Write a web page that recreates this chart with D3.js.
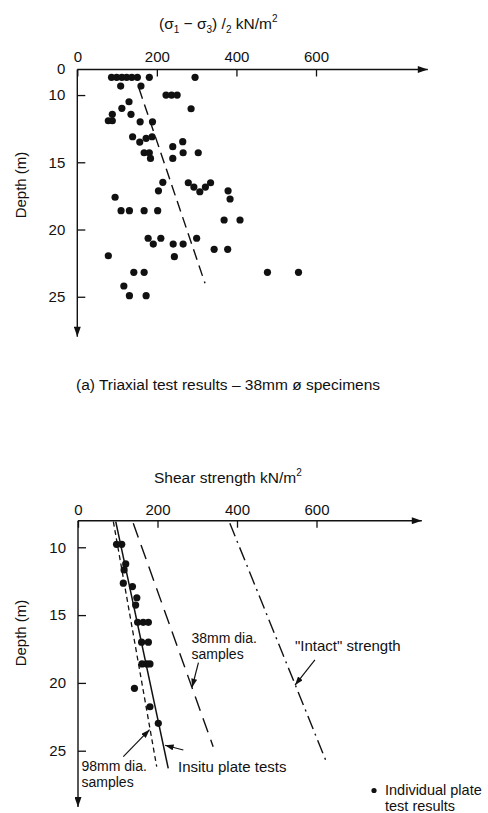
<!DOCTYPE html>
<html><head><meta charset="utf-8">
<script src="https://cdn.jsdelivr.net/npm/d3@7/dist/d3.min.js"></script>
<style>
body{margin:0;background:#fff}
svg{display:block}
text{font-family:"Liberation Sans",Arial,Helvetica,sans-serif;fill:#111}
</style>
</head><body>
<svg id="c" width="488" height="813"></svg>
<script>
// ---------- data ----------
const strengthTicks = [0, 200, 400, 600];
const depthTicks = [10, 15, 20, 25];

// (a) triaxial test results, 38mm specimens: (sigma1 - sigma3)/2 kN/m2 vs depth m
const triaxialStrength = [86, 99, 112, 124, 137, 151, 181, 296,
  109, 160, 223, 237, 251, 130, 112, 286, 88, 135, 78, 88, 158, 189,
  139, 157, 173, 188, 265, 240, 168, 181, 266, 304, 184, 240,
  215, 204, 279, 293, 308, 322, 335, 379, 384, 95,
  110, 131, 168, 202, 369, 409, 178, 191, 210, 241, 266, 300, 244, 344, 378, 78,
  142, 168, 478, 556, 117, 131, 173];
const triaxialDepth = [8.68, 8.68, 8.68, 8.68, 8.68, 8.68, 8.68, 8.68,
  9.33, 9.33, 10.0, 10.0, 10.0, 10.5, 10.99, 11.02, 11.43, 11.43, 11.91, 11.91, 11.99, 11.99,
  13.1, 13.5, 13.22, 13.1, 13.47, 13.84, 14.29, 14.29, 14.29, 14.29, 14.71, 14.71,
  16.49, 17.12, 16.52, 16.84, 17.19, 16.84, 16.52, 17.12, 17.73, 17.6,
  18.6, 18.6, 18.6, 18.6, 19.29, 19.29, 20.65, 21.08, 20.65, 21.08, 21.08, 20.65, 22.02, 21.47, 21.47, 21.95,
  23.18, 23.18, 23.18, 23.18, 24.2, 24.92, 24.92];
const triaxialTrendStrength = [155, 321];
const triaxialTrendDepth = [9.5, 24.0];

// (b) shear strength: individual plate tests and strength profiles
const plateStrength = [97, 110, 120, 116, 114, 137, 148, 145, 150, 164, 177, 160, 177, 161, 173, 181, 142, 181, 202];
const plateDepth = [9.78, 9.78, 11.23, 11.67, 12.65, 12.9, 13.72, 14.26, 15.53, 15.53, 15.53, 17.0, 17.0, 18.6, 18.6, 18.6, 20.4, 21.76, 22.98];
const insituStrength = [95, 227];
const insituDepth = [8.11, 26.3];
const sample98Strength = [89, 198];
const sample98Depth = [8.11, 26.18];
const sample38Strength = [139, 340];
const sample38Depth = [8.23, 24.7];
const intactStrength = [382, 626];
const intactDepth = [8.23, 25.9];

// annotation arrows: [tailStrength, tailDepth, headStrength, headDepth]
const arrow38 = [303, 18.51, 287, 20.32];
const arrowIntact = [596, 18.31, 546, 20.16];
const arrow98 = [114, 25.44, 180, 23.45];
const arrowInsitu = [265, 24.95, 219, 24.6];

// ---------- drawing ----------
const svg = d3.select('#c');
const ink = '#111';
const defs = svg.append('defs');
defs.append('marker').attr('id', 'axArrow').attr('viewBox', '0 0 10 7')
  .attr('refX', 10).attr('refY', 3.5).attr('markerWidth', 11).attr('markerHeight', 7)
  .attr('markerUnits', 'userSpaceOnUse').attr('orient', 'auto')
  .append('path').attr('d', 'M0,0L10,3.5L0,7Z').attr('fill', ink);
defs.append('marker').attr('id', 'annArrow').attr('viewBox', '0 0 10 7')
  .attr('refX', 10).attr('refY', 3.5).attr('markerWidth', 9).attr('markerHeight', 6)
  .attr('markerUnits', 'userSpaceOnUse').attr('orient', 'auto')
  .append('path').attr('d', 'M0,0L10,3.5L0,7Z').attr('fill', ink);

function drawAxes(x, y, xEnd, xPad, yLabelCenter) {
  const [d0, d1] = y.domain();
  const gx = svg.append('g').attr('transform', `translate(0,${y(d0)})`)
    .call(d3.axisTop(x).tickValues(strengthTicks).tickSize(-7).tickSizeOuter(0).tickPadding(xPad));
  gx.select('.domain').remove();
  gx.attr('font-size', 15).attr('font-family', null);
  gx.selectAll('line').attr('stroke', ink).attr('stroke-width', 1.3);
  gx.selectAll('text').attr('fill', ink);

  const gy = svg.append('g').attr('transform', `translate(${x(0)},0)`)
    .call(d3.axisLeft(y).tickValues(depthTicks).tickSize(-8).tickSizeOuter(0).tickPadding(12));
  gy.select('.domain').remove();
  gy.attr('font-size', 15).attr('font-family', null);
  gy.selectAll('line').attr('stroke', ink).attr('stroke-width', 1.3);
  gy.selectAll('text').attr('fill', ink);

  svg.append('line').attr('x1', x(0)).attr('x2', x(xEnd)).attr('y1', y(d0)).attr('y2', y(d0))
    .attr('stroke', ink).attr('stroke-width', 1.4).attr('marker-end', 'url(#axArrow)');
  svg.append('line').attr('x1', x(0)).attr('x2', x(0)).attr('y1', y(d0)).attr('y2', y(d1))
    .attr('stroke', ink).attr('stroke-width', 1.4).attr('marker-end', 'url(#axArrow)');

  svg.append('text').attr('transform', `translate(21,${yLabelCenter}) rotate(-90)`)
    .attr('text-anchor', 'middle').attr('dy', '0.35em').attr('font-size', 15).text('Depth (m)');
}

const line = (x, y) => d3.line().x(d => x(d[0])).y(d => y(d[1]));

// ----- top chart -----
const xT = d3.scaleLinear().domain([0, 600]).range([77.3, 316]);
const yT = d3.scaleLinear().domain([8.1, 27.97]).range([69.5, 336.7]);
drawAxes(xT, yT, 881, 8, 185);
svg.append('text').attr('x', xT(0) - 12).attr('y', yT(8.1) + 4).attr('text-anchor', 'end')
  .attr('font-size', 15).text('0');

const t1 = svg.append('text').attr('x', 159).attr('y', 29).attr('font-size', 15.5);
t1.append('tspan').text('(σ');
t1.append('tspan').attr('font-size', 10).attr('dy', 4).text('1');
t1.append('tspan').attr('dy', -4).text(' − σ');
t1.append('tspan').attr('font-size', 10).attr('dy', 4).text('3');
t1.append('tspan').attr('dy', -4).text(') /');
t1.append('tspan').attr('font-size', 10).attr('dy', 4).text('2');
t1.append('tspan').attr('dy', -4).text(' kN/m');
t1.append('tspan').attr('font-size', 10).attr('dy', -7).text('2');

svg.append('path').datum(d3.zip(triaxialTrendStrength, triaxialTrendDepth))
  .attr('d', line(xT, yT)).attr('fill', 'none').attr('stroke', ink)
  .attr('stroke-width', 1.4).attr('stroke-dasharray', '11,6');

svg.append('g').selectAll('circle').data(d3.zip(triaxialStrength, triaxialDepth)).join('circle')
  .attr('cx', d => xT(d[0])).attr('cy', d => yT(d[1])).attr('r', 3.6).attr('fill', ink);

svg.append('text').attr('x', 76).attr('y', 390).attr('font-size', 15.5)
  .text('(a) Triaxial test results – 38mm ø specimens');

// ----- bottom chart -----
const xB = d3.scaleLinear().domain([0, 600]).range([78, 316.5]);
const yB = d3.scaleLinear().domain([8.04, 29.15]).range([520.7, 807]);
drawAxes(xB, yB, 865, 6, 633);

const t2 = svg.append('text').attr('x', 154).attr('y', 483).attr('font-size', 15.5);
t2.append('tspan').text('Shear strength kN/m');
t2.append('tspan').attr('font-size', 10).attr('dy', -7).text('2');

const profiles = [
  [insituStrength, insituDepth, null, 1.5],
  [sample98Strength, sample98Depth, '5,3.5', 1.3],
  [sample38Strength, sample38Depth, '15,8', 1.4],
  [intactStrength, intactDepth, '14,5,2,5', 1.4]
];
profiles.forEach(([s, d, dash, w]) => {
  svg.append('path').datum(d3.zip(s, d)).attr('d', line(xB, yB))
    .attr('fill', 'none').attr('stroke', ink).attr('stroke-width', w)
    .attr('stroke-dasharray', dash);
});

svg.append('g').selectAll('circle').data(d3.zip(plateStrength, plateDepth)).join('circle')
  .attr('cx', d => xB(d[0])).attr('cy', d => yB(d[1])).attr('r', 3.6).attr('fill', ink);

[arrow38, arrowIntact, arrow98, arrowInsitu].forEach(a => {
  svg.append('line').attr('x1', xB(a[0])).attr('y1', yB(a[1])).attr('x2', xB(a[2])).attr('y2', yB(a[3]))
    .attr('stroke', ink).attr('stroke-width', 1.2).attr('marker-end', 'url(#annArrow)');
});

function label(x, y, lines, lh, fs) {
  const t = svg.append('text').attr('x', x).attr('y', y).attr('font-size', fs);
  lines.forEach((s, i) => t.append('tspan').attr('x', x).attr('dy', i ? lh : 0).text(s));
}
label(191.5, 643, ['38mm dia.', 'samples'], 15.5, 14);
label(295, 651, ['"Intact" strength'], 0, 15);
label(81.5, 771, ['98mm dia.', 'samples'], 15.5, 14);
label(178, 771.5, ['Insitu plate tests'], 0, 15);
svg.append('circle').attr('cx', 374).attr('cy', 790.5).attr('r', 2.6).attr('fill', ink);
label(385, 794.5, ['Individual plate', 'test results'], 16.5, 14.5);
</script>
</body></html>
